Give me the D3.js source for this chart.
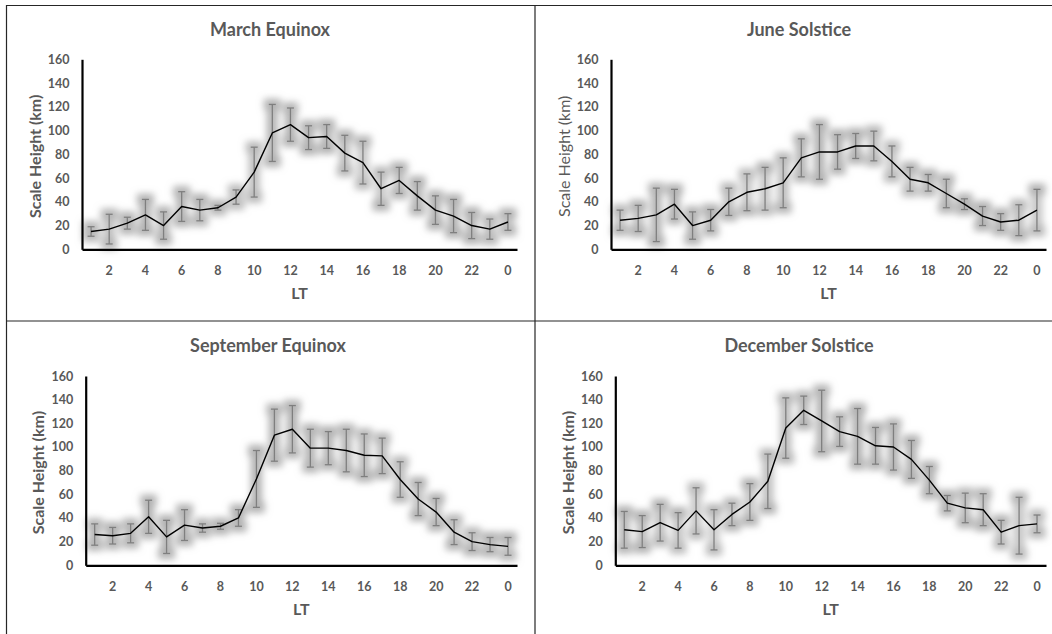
<!DOCTYPE html>
<html>
<head>
<meta charset="utf-8">
<script src="https://cdn.jsdelivr.net/npm/d3@7"></script>
<style>
  body { margin: 0; background: #fff; }
  text { font-family: Lato, "Open Sans", sans-serif; }
  .tick text { fill: #595959; font-weight: 700; font-size: 12.5px; }
  .title { fill: #595959; font-weight: 700; font-size: 18px; }
  .label { fill: #595959; font-size: 16px; }
</style>
</head>
<body>
<svg id="svg" width="1052" height="634"></svg>
<script>

// local time categories
const hours = ['1','2','3','4','5','6','7','8','9','10','11','12','13','14','15','16','17','18','19','20','21','22','23','0'];
const yTicks = [0, 20, 40, 60, 80, 100, 120, 140, 160];

// scale height (km) and error
const marchMean = [15, 17, 22, 29, 20, 36, 33, 35, 44, 65, 98, 105, 94, 95, 81, 73, 51, 58, 45, 33, 28, 20, 17, 23];
const marchErr  = [4, 12.5, 5, 13, 11.5, 12.5, 9, 2, 6, 21, 24, 14, 10, 10, 15, 18, 14, 11, 12, 12, 14, 11, 8.5, 7];

const juneMean = [24.5, 26, 29, 38, 20, 24.5, 40, 48, 51, 56, 77, 82, 82, 87, 87, 74, 59, 56, 47, 38, 28, 23, 24.5, 33];
const juneErr  = [8.5, 11, 22.5, 12.5, 11.5, 9, 11.5, 15.5, 18, 21, 16, 23, 14.5, 10.5, 12.5, 13, 10, 7, 12, 4.5, 8, 7, 13, 17.5];

const septMean = [26, 25, 27, 41, 24, 34, 31.5, 33, 40, 73, 110, 115, 99, 99, 97, 93, 92.5, 72.5, 56, 45, 28, 20, 17.5, 16];
const septErr  = [9, 7, 8, 14, 14, 13, 3.5, 2.5, 7, 24, 22, 20, 16, 14, 18, 18, 15, 15, 14, 11.5, 10.5, 7.5, 6, 7.5];

const decMean = [30, 28.5, 36, 29.5, 46, 30, 43, 53.5, 71, 116, 131, 122, 113, 109, 101, 100, 89.5, 72, 52.5, 48.5, 47, 28, 33.5, 35];
const decErr  = [15.5, 13.5, 15.5, 15, 19.5, 17, 9.5, 15.5, 23, 25.5, 12, 26, 12.5, 23.5, 15.5, 19.5, 16, 11.5, 6.5, 12.5, 13.5, 10, 24, 7.5];

const svg = d3.select('svg');

// glow like the excel effect
const defs = svg.append('defs');
const f = defs.append('filter').attr('id', 'glow')
  .attr('x', '-50%').attr('y', '-50%').attr('width', '200%').attr('height', '200%');
f.append('feMorphology').attr('in', 'SourceAlpha').attr('operator', 'dilate').attr('radius', 4.5).attr('result', 'd');
f.append('feGaussianBlur').attr('in', 'd').attr('stdDeviation', 3.5).attr('result', 'b');
f.append('feFlood').attr('flood-color', '#a0a0a0').attr('flood-opacity', 0.8);
f.append('feComposite').attr('in2', 'b').attr('operator', 'in').attr('result', 'g');
const fm = f.append('feMerge');
fm.append('feMergeNode').attr('in', 'g');
fm.append('feMergeNode').attr('in', 'SourceGraphic');

// frame lines of the chart boxes
const frame = svg.append('g').attr('stroke', '#262626').attr('stroke-width', 1.2);
frame.append('line').attr('x1', 6).attr('x2', 1052).attr('y1', 5.5).attr('y2', 5.5);
frame.append('line').attr('x1', 6).attr('x2', 1052).attr('y1', 321).attr('y2', 321);
frame.append('line').attr('x1', 6.5).attr('x2', 6.5).attr('y1', 5).attr('y2', 634);
frame.append('line').attr('x1', 535).attr('x2', 535).attr('y1', 5).attr('y2', 634);

const panels = [
  { title: 'March Equinox', mean: marchMean, err: marchErr, cx: 270, ty: 30, x0: 82, x1: 517, y0: 249.3, y1: 59.3, bold: true },
  { title: 'June Solstice', mean: juneMean, err: juneErr, cx: 799, ty: 30, x0: 611, x1: 1046, y0: 249.3, y1: 59.3, bold: false },
  { title: 'September Equinox', mean: septMean, err: septErr, cx: 268, ty: 346, x0: 85.7, x1: 517, y0: 565.3, y1: 376, bold: true },
  { title: 'December Solstice', mean: decMean, err: decErr, cx: 799, ty: 346, x0: 615.3, x1: 1046, y0: 565.3, y1: 376, bold: true }
];

panels.forEach(function (p) {
  const g = svg.append('g');

  const xScale = d3.scaleBand().domain(hours).range([p.x0, p.x1]);
  const yScale = d3.scaleLinear().domain([0, 160]).range([p.y0, p.y1]);
  const cx = (d, i) => xScale(hours[i]) + xScale.bandwidth() / 2;

  // series: error bars + line, with glow
  const series = g.append('g').attr('filter', 'url(#glow)');
  const eb = series.append('g')
    .attr('stroke', '#7f7f7f').attr('stroke-width', 1.3).attr('fill', 'none');
  const bars = eb.selectAll('g').data(p.mean).enter().append('g');
  bars.append('line')
    .attr('x1', cx).attr('x2', cx)
    .attr('y1', (d, i) => yScale(d + p.err[i]))
    .attr('y2', (d, i) => yScale(d - p.err[i]));
  bars.append('line')
    .attr('x1', (d, i) => cx(d, i) - 3.5).attr('x2', (d, i) => cx(d, i) + 3.5)
    .attr('y1', (d, i) => yScale(d + p.err[i])).attr('y2', (d, i) => yScale(d + p.err[i]));
  bars.append('line')
    .attr('x1', (d, i) => cx(d, i) - 3.5).attr('x2', (d, i) => cx(d, i) + 3.5)
    .attr('y1', (d, i) => yScale(d - p.err[i])).attr('y2', (d, i) => yScale(d - p.err[i]));

  // mean line
  const line = d3.line().x(cx).y(d => yScale(d));
  g.append('path').datum(p.mean)
    .attr('d', line)
    .attr('fill', 'none').attr('stroke', '#000').attr('stroke-width', 1.4)
    .attr('stroke-linejoin', 'round');

  // axes
  const yAxis = g.append('g')
    .attr('transform', `translate(${p.x0}, 0)`)
    .call(d3.axisLeft(yScale).tickValues(yTicks).tickSize(0).tickPadding(12));
  yAxis.select('.domain').attr('stroke', '#000').attr('stroke-width', 2.2);

  const xAxis = g.append('g')
    .attr('transform', `translate(0, ${p.y0})`)
    .call(d3.axisBottom(xScale).tickValues(hours.filter((h, i) => i % 2 === 1)).tickSize(0).tickPadding(15));
  xAxis.select('.domain').attr('stroke', '#000').attr('stroke-width', 2.2);
  xAxis.selectAll('.tick text').attr('dy', '0.35em').attr('y', 21);
  yAxis.selectAll('.tick text').attr('x', -12.5);

  g.append('text')
    .attr('class', 'title')
    .attr('x', p.cx).attr('y', p.ty).attr('dy', '0.35em')
    .attr('text-anchor', 'middle')
    .text(p.title);

  g.append('text')
    .attr('class', 'label')
    .attr('x', (p.x0 + p.x1) / 2).attr('y', p.y0 + 44).attr('dy', '0.35em')
    .attr('text-anchor', 'middle').attr('font-weight', 700)
    .text('LT');

  g.append('text')
    .attr('class', 'label')
    .attr('transform', `translate(${p.x0 - 47}, ${(p.y0 + p.y1) / 2 + 2}) rotate(-90)`)
    .attr('dy', '0.35em')
    .attr('text-anchor', 'middle').attr('font-weight', p.bold ? 700 : 400)
    .text('Scale Height (km)');
});

</script>
</body>
</html>
